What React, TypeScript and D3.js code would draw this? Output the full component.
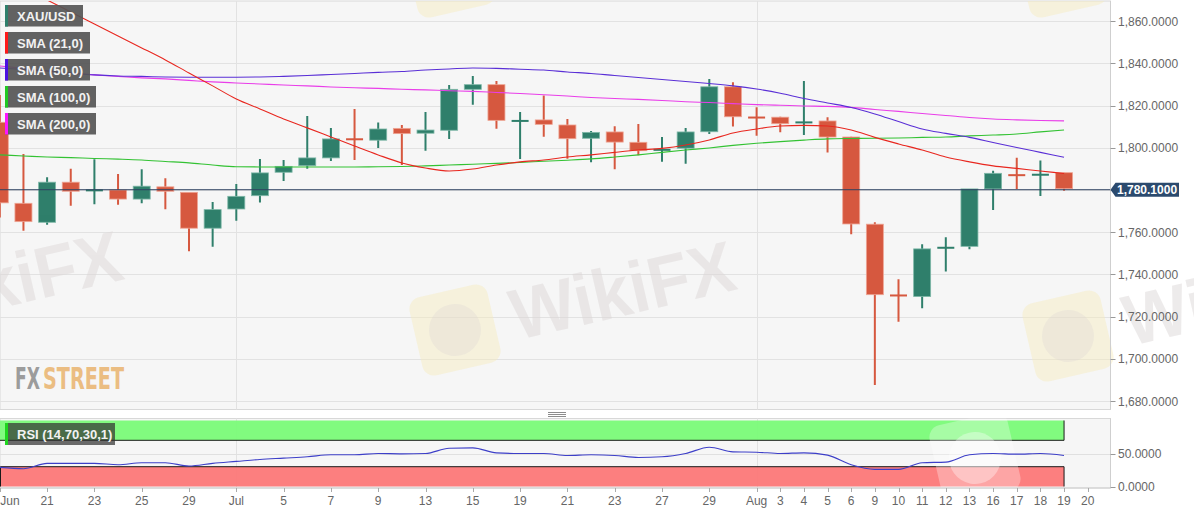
import React, { useEffect, useRef } from 'react';
import * as d3 from 'd3';

// trading days (last slot is the empty Aug 20 column)
const dates = [
  '06-17', '06-18', '06-21', '06-22', '06-23', '06-24', '06-25', '06-28', '06-29', '06-30',
  '07-01', '07-02', '07-05', '07-06', '07-07', '07-08', '07-09', '07-12', '07-13', '07-14',
  '07-15', '07-16', '07-19', '07-20', '07-21', '07-22', '07-23', '07-26', '07-27', '07-28',
  '07-29', '07-30', '08-02', '08-03', '08-04', '08-05', '08-06', '08-09', '08-10', '08-11',
  '08-12', '08-13', '08-16', '08-17', '08-18', '08-19', '08-20'
];

const open = [
  1811.6, 1773.2, 1764.2, 1783.2, 1779.0, 1779.5, 1775.2, 1781.0, 1778.4, 1761.4,
  1770.5, 1776.8, 1787.9, 1791.0, 1794.7, 1804.0, 1803.1, 1808.7, 1806.4, 1807.8,
  1827.2, 1829.4, 1812.3, 1812.7, 1810.3, 1804.0, 1807.0, 1802.1, 1798.2, 1799.3,
  1807.1, 1828.4, 1814.3, 1814.0, 1811.5, 1812.2, 1804.6, 1763.3, 1730.0, 1729.0,
  1752.0, 1752.8, 1780.0, 1787.0, 1786.6, 1787.7
];
const high = [
  1825.0, 1797.0, 1786.0, 1790.0, 1794.5, 1787.6, 1789.8, 1785.5, 1778.6, 1774.3,
  1782.8, 1794.7, 1794.2, 1815.0, 1809.4, 1818.4, 1812.0, 1810.8, 1816.9, 1829.7,
  1834.0, 1831.6, 1816.9, 1824.7, 1813.6, 1807.9, 1810.2, 1811.2, 1805.1, 1809.4,
  1832.6, 1831.0, 1819.2, 1814.7, 1831.6, 1814.4, 1805.2, 1764.7, 1737.7, 1754.3,
  1757.6, 1780.1, 1789.1, 1795.3, 1793.9, 1788.2
];
const low = [
  1767.0, 1760.7, 1763.5, 1772.5, 1773.2, 1773.0, 1773.7, 1770.8, 1751.0, 1753.1,
  1765.4, 1774.0, 1784.2, 1790.0, 1793.7, 1794.2, 1799.9, 1791.8, 1798.6, 1804.1,
  1820.4, 1809.0, 1794.7, 1805.2, 1794.8, 1793.1, 1789.8, 1796.4, 1793.4, 1792.4,
  1806.5, 1810.0, 1805.7, 1807.3, 1806.0, 1797.7, 1759.0, 1687.6, 1717.6, 1723.9,
  1741.3, 1751.9, 1770.5, 1780.5, 1777.1, 1779.6
];
const close = [
  1773.4, 1764.5, 1783.2, 1778.9, 1779.8, 1775.2, 1781.3, 1778.9, 1761.4, 1770.2,
  1776.5, 1787.6, 1790.7, 1794.7, 1803.7, 1803.3, 1808.4, 1806.2, 1807.9, 1827.2,
  1829.4, 1812.5, 1812.7, 1810.6, 1803.8, 1806.8, 1802.2, 1798.1, 1799.0, 1807.0,
  1828.4, 1814.2, 1814.0, 1810.9, 1812.0, 1804.6, 1763.4, 1729.9, 1729.5, 1751.6,
  1752.6, 1780.0, 1787.4, 1786.6, 1787.2, 1780.1
];

const sma21 = [
  1881.8, 1875.9, 1870.0, 1864.3, 1858.6, 1852.9, 1847.3, 1841.6, 1835.4, 1829.3,
  1823.1, 1818.4, 1813.6, 1809.4, 1805.1, 1800.8, 1796.6, 1792.8, 1790.4, 1789.0,
  1789.9, 1791.8, 1793.3, 1794.2, 1795.6, 1796.6, 1797.8, 1798.9, 1799.7, 1801.3,
  1803.7, 1807.0, 1808.9, 1810.3, 1810.6, 1810.3, 1808.4, 1804.9, 1801.8, 1798.9,
  1795.6, 1793.3, 1791.4, 1790.2, 1789.0, 1787.8
];
const sma50 = [
  1837.8, 1837.1, 1836.4, 1835.4, 1834.5, 1834.0, 1833.8, 1833.5, 1833.4, 1833.4,
  1833.4, 1833.5, 1833.8, 1834.2, 1834.7, 1835.2, 1835.7, 1836.1, 1836.8, 1837.3,
  1837.8, 1837.6, 1837.2, 1836.8, 1835.9, 1835.2, 1834.2, 1833.3, 1832.3, 1831.4,
  1830.4, 1829.3, 1827.8, 1825.8, 1823.3, 1821.2, 1819.1, 1816.0, 1812.4, 1808.9,
  1806.8, 1804.9, 1802.5, 1800.1, 1797.8, 1795.5
];
const sma100 = [
  1796.6, 1796.1, 1795.6, 1795.3, 1794.9, 1794.6, 1794.2, 1793.5, 1792.8, 1791.8,
  1791.0, 1790.9, 1790.9, 1790.9, 1790.9, 1790.9, 1791.0, 1791.1, 1791.4, 1791.8,
  1792.2, 1792.6, 1793.0, 1793.6, 1794.1, 1794.7, 1795.6, 1796.6, 1797.8, 1798.9,
  1799.9, 1801.1, 1802.1, 1802.9, 1803.6, 1804.2, 1804.4, 1804.5, 1804.6, 1804.9,
  1805.1, 1805.6, 1806.0, 1806.5, 1807.5, 1808.4
];
const sma200 = [
  1838.7, 1837.6, 1836.4, 1835.4, 1834.5, 1833.8, 1833.1, 1832.6, 1831.9, 1831.2,
  1830.7, 1830.2, 1829.7, 1829.3, 1828.8, 1828.4, 1828.1, 1827.7, 1827.4, 1827.0,
  1826.7, 1826.2, 1825.7, 1825.1, 1824.5, 1823.8, 1823.3, 1822.9, 1822.4, 1821.8,
  1821.4, 1820.9, 1820.4, 1820.1, 1819.8, 1819.6, 1819.1, 1818.1, 1817.2, 1816.2,
  1815.3, 1814.3, 1813.6, 1813.2, 1812.9, 1812.7
];

const rsi = [
  29, 27, 35, 35, 35, 33, 36, 36, 31, 35,
  38, 41, 43, 45, 48, 48, 50, 49.5, 50, 58,
  58.5, 51, 50, 50, 47, 48, 47, 44, 45, 50,
  59.5, 52.5, 52, 50, 51, 47.5, 33, 26, 26, 36,
  37, 48, 50, 49, 50, 47
];

const tickDates = [
  '06-17', '06-21', '06-23', '06-25', '06-29', '07-01', '07-05', '07-07', '07-09', '07-13',
  '07-15', '07-19', '07-21', '07-23', '07-27', '07-29', '08-02', '08-03', '08-04', '08-05',
  '08-06', '08-09', '08-10', '08-11', '08-12', '08-13', '08-16', '08-17', '08-18', '08-19', '08-20'
];
const tickLabels = [
  'Jun', '21', '23', '25', '29', 'Jul', '5', '7', '9', '13',
  '15', '19', '21', '23', '27', '29', 'Aug', '3', '4', '5',
  '6', '9', '10', '11', '12', '13', '16', '17', '18', '19', '20'
];
const monthStarts = ['07-01', '08-02'];

const priceTicks = [1680, 1700, 1720, 1740, 1760, 1780, 1800, 1820, 1840, 1860];
const rsiTicks = [0, 50];
const lastPrice = 1780.1;

const legendItems = [
  { label: 'XAU/USD', color: '#2f7f6b', w: 78 },
  { label: 'SMA (21,0)', color: '#ff1a1a', w: 85 },
  { label: 'SMA (50,0)', color: '#4b10e0', w: 85 },
  { label: 'SMA (100,0)', color: '#22c822', w: 91 },
  { label: 'SMA (200,0)', color: '#ff14ff', w: 91 }
];

const W = 1194;
const H = 513;
const FONT = '"Liberation Sans", Arial, sans-serif';

const App: React.FC = () => {
  const ref = useRef<SVGSVGElement>(null);

  useEffect(() => {
    const svg = d3.select(ref.current);
    svg.selectAll('*').remove();

    const plotRight = 1110.5;
    const mainTop = 1, mainBottom = 409.5;
    const rsiTop = 418.5, rsiBottom = 488;

    const x = d3.scalePoint<string>().domain(dates).range([-0.2, 1087.7]);
    const y = d3.scaleLinear().domain([1680, 1840]).range([401, 63.3]);
    const yR = d3.scaleLinear().domain([0, 100]).range([486.5, 420.5]);

    svg.append('rect').attr('width', W).attr('height', H).attr('fill', '#ffffff');

    const defs = svg.append('defs');
    defs.append('clipPath').attr('id', 'clipMain').append('rect')
      .attr('x', 0).attr('y', mainTop).attr('width', plotRight).attr('height', mainBottom - mainTop);
    defs.append('clipPath').attr('id', 'clipRsi').append('rect')
      .attr('x', 0).attr('y', rsiTop).attr('width', plotRight).attr('height', rsiBottom - rsiTop);
    defs.append('clipPath').attr('id', 'clipBand').append('rect')
      .attr('x', 0).attr('y', mainTop).attr('width', W).attr('height', mainBottom - mainTop);

    // panel backgrounds
    svg.append('rect').attr('x', 0).attr('y', mainTop).attr('width', plotRight).attr('height', mainBottom - mainTop)
      .attr('fill', '#f6f6f6').attr('stroke', '#d8d8d8');
    svg.append('rect').attr('x', 0).attr('y', rsiTop).attr('width', plotRight).attr('height', rsiBottom - rsiTop)
      .attr('fill', '#f6f6f6').attr('stroke', '#d8d8d8');

    const main = svg.append('g').attr('clip-path', 'url(#clipMain)');
    const rsiG = svg.append('g').attr('clip-path', 'url(#clipRsi)');

    // grid
    main.selectAll('.hgrid').data(priceTicks).join('line')
      .attr('x1', 0).attr('x2', plotRight)
      .attr('y1', d => Math.round(y(d)) + 0.5).attr('y2', d => Math.round(y(d)) + 0.5)
      .attr('stroke', '#e2e2e2');
    [main, rsiG].forEach(g => {
      g.selectAll('.vgrid').data(monthStarts).join('line')
        .attr('x1', d => Math.round(x(d)!) + 0.5).attr('x2', d => Math.round(x(d)!) + 0.5)
        .attr('y1', 0).attr('y2', H)
        .attr('stroke', '#e2e2e2');
    });

    // watermarks
    const mark = (g: any, tx: number, ty: number, light: boolean, withText: boolean) => {
      const m = g.append('g').attr('transform', `translate(${tx},${ty}) rotate(-13)`);
      m.append('rect').attr('x', -40).attr('y', -40).attr('width', 80).attr('height', 80).attr('rx', 12)
        .attr('fill', light ? '#ffffff' : '#f6ebbd').attr('opacity', light ? 0.3 : 0.45);
      m.append('circle').attr('r', 26).attr('fill', light ? '#ffffff' : '#d9d4d4').attr('opacity', light ? 0.35 : 0.3);
      if (withText) {
        m.append('text').attr('x', 58).attr('y', 24).text('WikiFX')
          .attr('font-family', FONT).attr('font-weight', 'bold').attr('font-size', 72)
          .attr('textLength', 228).attr('lengthAdjust', 'spacingAndGlyphs')
          .attr('fill', light ? '#ffffff' : '#ddd8d8').attr('opacity', light ? 0.35 : 0.5);
      }
    };
    const wm = svg.append('g').attr('clip-path', 'url(#clipBand)');
    mark(wm, 455, 330, false, true);
    mark(wm, 1068, 336, false, true);
    mark(wm, -158, 320, false, true);
    mark(wm, 450, -28, false, false);
    mark(wm, 1062, -28, false, false);

    // FXSTREET logo
    const logo = main.append('text').attr('x', 15).attr('y', 389)
      .attr('font-family', '"DejaVu Sans Condensed", "DejaVu Sans", sans-serif').attr('font-weight', 'bold')
      .attr('font-size', 31);
    logo.append('tspan').text('FX').attr('textLength', 25).attr('lengthAdjust', 'spacingAndGlyphs')
      .attr('fill', '#9c9c9c');
    logo.append('tspan').attr('x', 43).text('STREET').attr('textLength', 81).attr('lengthAdjust', 'spacingAndGlyphs')
      .attr('fill', '#ebbd82');

    // candles
    const idx = d3.range(open.length);
    const bw = 17;
    const up = '#2f7f6b', down = '#d6583f';
    const col = (i: number) => (close[i] >= open[i] ? up : down);
    const edge = (i: number) => (close[i] >= open[i] ? '#7fb8a8' : '#eea594');
    const candles = main.append('g');
    candles.selectAll('.wick').data(idx).join('line')
      .attr('x1', i => x(dates[i])!).attr('x2', i => x(dates[i])!)
      .attr('y1', i => y(high[i])).attr('y2', i => y(low[i]))
      .attr('stroke', i => col(i)).attr('stroke-width', 2);
    candles.selectAll('.body').data(idx).join('rect')
      .attr('x', i => x(dates[i])! - bw / 2)
      .attr('y', i => y(Math.max(open[i], close[i])) - 1)
      .attr('width', bw)
      .attr('height', i => Math.max(2, Math.abs(y(open[i]) - y(close[i]))))
      .attr('fill', i => col(i))
      .attr('stroke', i => (Math.abs(y(open[i]) - y(close[i])) > 3 ? edge(i) : 'none'))
      .attr('stroke-width', 0.8);

    // moving averages
    const smaLine = d3.line<number>().x((_, i) => x(dates[i])!).y(d => y(d)).curve(d3.curveMonotoneX);
    const smas: [number[], string][] = [
      [sma100, '#33c233'], [sma200, '#e93ee9'], [sma50, '#5a2fd6'], [sma21, '#e8271f']
    ];
    smas.forEach(([data, c]) => {
      main.append('path').datum(data).attr('d', smaLine)
        .attr('fill', 'none').attr('stroke', c).attr('stroke-width', 1.1);
    });

    // last price line
    main.append('line').attr('x1', 0).attr('x2', plotRight)
      .attr('y1', y(lastPrice)).attr('y2', y(lastPrice))
      .attr('stroke', '#2d4260').attr('stroke-width', 1);

    // RSI panel
    rsiG.append('line').attr('x1', 0).attr('x2', plotRight)
      .attr('y1', Math.round(yR(50)) + 0.5).attr('y2', Math.round(yR(50)) + 0.5).attr('stroke', '#e0e0e0');
    const xEnd = x(dates[open.length - 1])!;
    rsiG.append('rect').attr('x', 0).attr('y', yR(100)).attr('width', xEnd).attr('height', yR(70) - yR(100))
      .attr('fill', '#7dfb7b').attr('opacity', 0.97);
    rsiG.append('rect').attr('x', 0).attr('y', yR(30)).attr('width', xEnd).attr('height', yR(0) - yR(30))
      .attr('fill', '#fc7b7b').attr('opacity', 0.97);
    rsiG.append('path')
      .attr('d', `M0,${yR(70)}H${xEnd}V${yR(100)}M0.5,${yR(0)}V${yR(30)}H${xEnd}V${yR(0)}`)
      .attr('fill', 'none').attr('stroke', '#1a1a1a').attr('stroke-width', 1);
    mark(rsiG, 975, 458, true, false);
    const rsiLine = d3.line<number>().x((_, i) => x(dates[i])!).y(d => yR(d)).curve(d3.curveMonotoneX);
    rsiG.append('path').datum(rsi).attr('d', rsiLine)
      .attr('fill', 'none').attr('stroke', '#3d3fc8').attr('stroke-width', 1.1);

    // pane handle
    [412, 414, 416].forEach(yy => {
      svg.append('line').attr('x1', 548).attr('x2', 566).attr('y1', yy + 0.5).attr('y2', yy + 0.5)
        .attr('stroke', '#8c8c8c');
    });

    // right price axis
    svg.append('line').attr('x1', plotRight).attr('x2', plotRight).attr('y1', mainTop).attr('y2', mainBottom)
      .attr('stroke', '#cfcfcf');
    const pAxis = svg.append('g');
    pAxis.selectAll('line').data(priceTicks).join('line')
      .attr('x1', plotRight).attr('x2', plotRight + 5)
      .attr('y1', d => Math.round(y(d)) + 0.5).attr('y2', d => Math.round(y(d)) + 0.5)
      .attr('stroke', '#999');
    pAxis.selectAll('text').data(priceTicks).join('text')
      .attr('x', 1118).attr('y', d => y(d) + 4.5)
      .text(d => d3.format(',.4f')(d))
      .attr('font-family', FONT).attr('font-size', 12).attr('fill', '#666');

    // current price tag
    const ly = y(lastPrice);
    svg.append('path')
      .attr('d', `M${plotRight},${ly}L${plotRight + 5},${ly - 7}H1179V${ly + 7}H${plotRight + 5}Z`)
      .attr('fill', '#2b4a6e');
    svg.append('text').attr('x', 1117).attr('y', ly + 4.5).text(d3.format(',.4f')(lastPrice))
      .attr('font-family', FONT).attr('font-size', 12).attr('font-weight', 'bold').attr('fill', '#ffffff');

    // RSI axis
    svg.append('line').attr('x1', plotRight).attr('x2', plotRight).attr('y1', rsiTop).attr('y2', rsiBottom)
      .attr('stroke', '#cfcfcf');
    const rAxis = svg.append('g');
    rAxis.selectAll('line').data(rsiTicks).join('line')
      .attr('x1', plotRight).attr('x2', plotRight + 5)
      .attr('y1', d => Math.round(yR(d)) + 0.5).attr('y2', d => Math.round(yR(d)) + 0.5)
      .attr('stroke', '#999');
    rAxis.selectAll('text').data(rsiTicks).join('text')
      .attr('x', 1118).attr('y', d => yR(d) + 4.5)
      .text(d => d3.format('.4f')(d))
      .attr('font-family', FONT).attr('font-size', 12).attr('fill', '#666');

    // time axis
    svg.append('line').attr('x1', 0).attr('x2', plotRight).attr('y1', rsiBottom).attr('y2', rsiBottom)
      .attr('stroke', '#cfcfcf');
    const tAxis = svg.append('g');
    tAxis.selectAll('line').data(tickDates).join('line')
      .attr('x1', d => Math.round(x(d)!) + 0.5).attr('x2', d => Math.round(x(d)!) + 0.5)
      .attr('y1', rsiBottom).attr('y2', rsiBottom + 4)
      .attr('stroke', '#aaa');
    tAxis.selectAll('text').data(tickDates).join('text')
      .attr('x', d => Math.max(x(d)!, 10))
      .attr('y', 505)
      .attr('text-anchor', 'middle')
      .text((_, i) => tickLabels[i])
      .attr('font-family', FONT).attr('font-size', 12).attr('fill', '#666');

    // legend
    const leg = svg.append('g');
    legendItems.forEach((it, i) => {
      const ty = 5 + i * 27;
      leg.append('rect').attr('x', 5).attr('y', ty).attr('width', it.w).attr('height', 21.5)
        .attr('fill', '#555').attr('opacity', 0.92);
      leg.append('rect').attr('x', 5).attr('y', ty).attr('width', 3).attr('height', 21.5).attr('fill', it.color);
      leg.append('text').attr('x', 17).attr('y', ty + 15.5).text(it.label)
        .attr('font-family', FONT).attr('font-size', 13).attr('font-weight', 'bold').attr('fill', '#f2f2f2');
    });
    leg.append('rect').attr('x', 5).attr('y', 423).attr('width', 110).attr('height', 22)
      .attr('fill', '#333').attr('opacity', 0.72);
    leg.append('rect').attr('x', 5).attr('y', 423).attr('width', 3).attr('height', 22).attr('fill', '#1fd61f');
    leg.append('text').attr('x', 17).attr('y', 438.5).text('RSI (14,70,30,1)')
      .attr('font-family', FONT).attr('font-size', 13).attr('font-weight', 'bold').attr('fill', '#f2f2f2');
  }, []);

  return (
    <svg ref={ref} width={W} height={H} style={{ position: 'absolute', left: 0, top: 0, display: 'block' }} />
  );
};

export default App;
